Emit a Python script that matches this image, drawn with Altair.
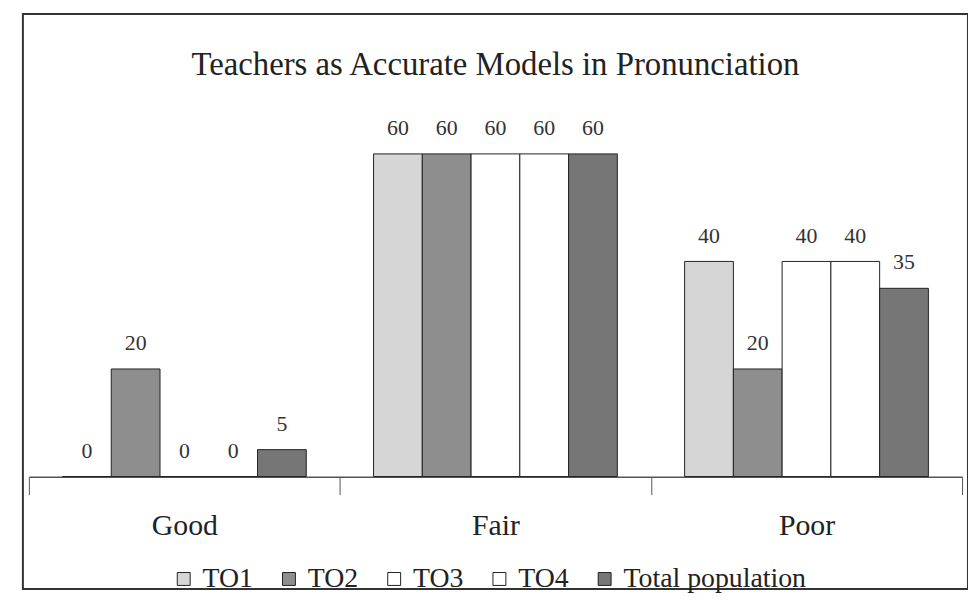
import altair as alt
import pandas as pd

categories = ["Good", "Fair", "Poor"]
series = ["TO1", "TO2", "TO3", "TO4", "Total population"]
to1 = [0, 60, 40]
to2 = [20, 60, 20]
to3 = [0, 60, 40]
to4 = [0, 60, 40]
total = [5, 60, 35]
colors = ["#d6d6d6", "#8e8e8e", "#ffffff", "#ffffff", "#767676"]

rows = []
for s, vals in zip(series, [to1, to2, to3, to4, total]):
    for c, v in zip(categories, vals):
        rows.append({"category": c, "series": s, "value": v})
df = pd.DataFrame(rows)

FONT = "Liberation Serif"

x = alt.X(
    "category:N",
    sort=categories,
    scale=alt.Scale(range=[6, 946], paddingInner=0, paddingOuter=0),
    axis=alt.Axis(
        title=None,
        labelAngle=0,
        offset=-113,
        tickBand="extent",
        tickSize=18,
        domainColor="#555",
        tickColor="#555",
        domainWidth=1.5,
        labelFont=FONT,
        labelFontSize=30,
        labelColor="#222",
        labelPadding=16,
    ),
)
xo = alt.XOffset("series:N", sort=series, scale=alt.Scale(paddingInner=0, paddingOuter=0.69))
y = alt.Y("value:Q", stack=None, scale=alt.Scale(domain=[-20.9, 86.0]), axis=None)

base = alt.Chart(df)

bars = base.mark_bar(stroke="#222", strokeWidth=1).encode(
    x=x,
    xOffset=xo,
    y=y,
    color=alt.Color(
        "series:N",
        sort=series,
        scale=alt.Scale(domain=series, range=colors),
        legend=alt.Legend(
            title=None,
            orient="none",
            legendX=148,
            legendY=555,
            direction="horizontal",
            symbolType="square",
            symbolSize=169,
            symbolStrokeColor="#222",
            symbolStrokeWidth=1,
            labelFont=FONT,
            labelFontSize=28,
            labelColor="#222",
            labelLimit=400,
            columnPadding=22,
            labelOffset=5,
            padding=0,
        ),
    ),
)

labels = base.mark_text(
    dy=-19, baseline="alphabetic", font=FONT, fontSize=22, color="#333"
).encode(x=x, xOffset=xo, y=y, text="value:Q")

chart = (
    alt.layer(bars, labels)
    .properties(
        width=952,
        height=579,
        padding={"left": 15, "top": 4, "right": 0, "bottom": 0},
        title=alt.TitleParams(
            "Teachers as Accurate Models in Pronunciation",
            font=FONT,
            fontSize=33,
            fontWeight="normal",
            color="#222",
            anchor="middle",
            offset=-94,
            baseline="alphabetic",
        ),
    )
    .configure_view(stroke="#333", strokeWidth=2)
)

chart.save("out.html", embed_options={"renderer": "svg", "actions": False})
